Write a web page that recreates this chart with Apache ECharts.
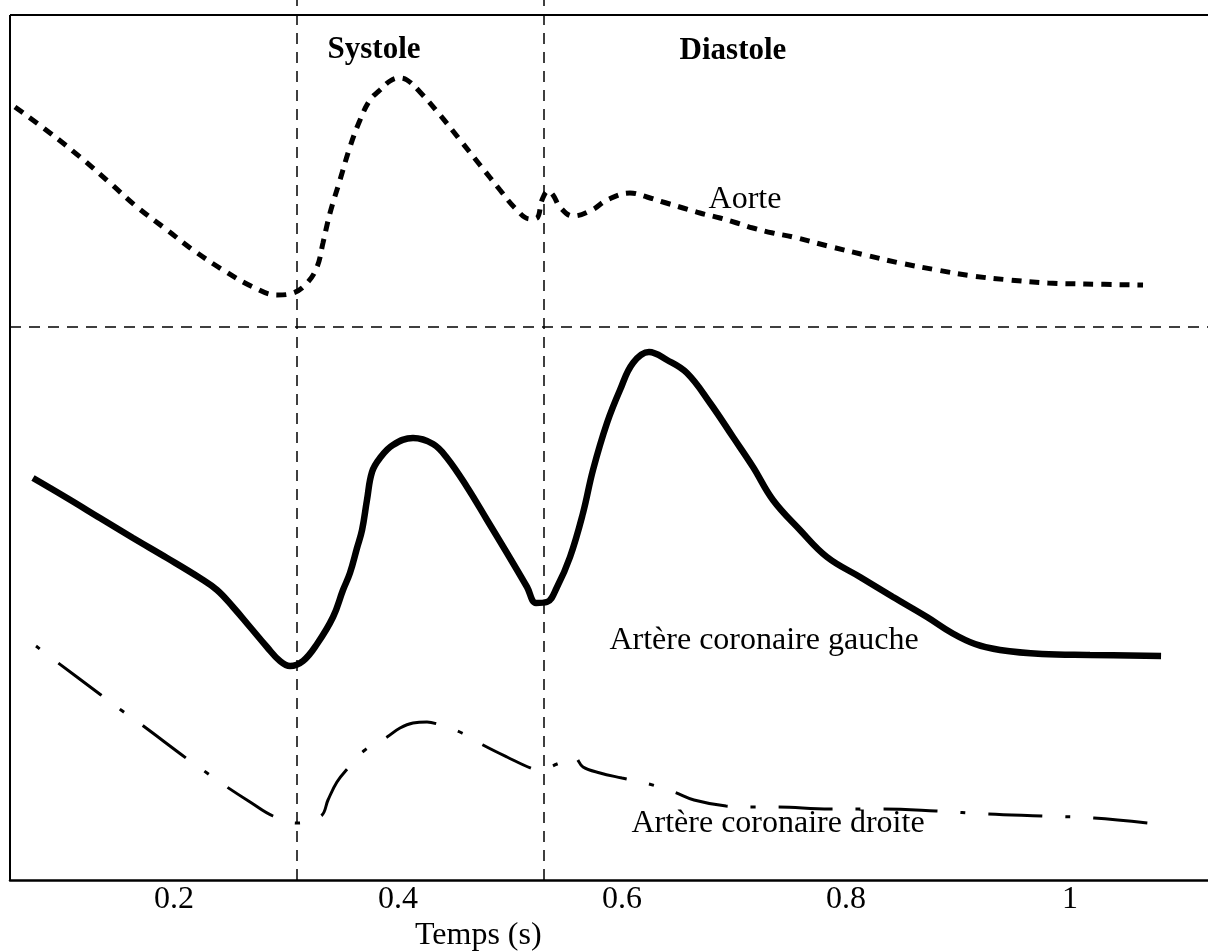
<!DOCTYPE html>
<html>
<head>
<meta charset="utf-8">
<title>Débit coronaire</title>
<script src="https://cdn.jsdelivr.net/npm/echarts@6/dist/echarts.min.js"></script>
<style>
html, body { margin: 0; padding: 0; background: #fff; }
#chart { width: 1208px; height: 952px; }
</style>
</head>
<body>
<div id="chart"></div>
<script>
// valeurs (temps en s, amplitude sans unité)
var xTicks = [0.2, 0.4, 0.6, 0.8, 1];
var debutSystole = 0.3107;
var finSystole = 0.525;
var separation = 55.3;

var aorteTemps = [0.0580, 0.0893, 0.1161, 0.1429, 0.1670, 0.1938, 0.2170, 0.2438, 0.2705, 0.2920,
	0.3063, 0.3188, 0.3277, 0.3330, 0.3393, 0.3482, 0.3571, 0.3661, 0.3750, 0.3839,
	0.3929, 0.4000, 0.4080, 0.4196, 0.4375, 0.4554, 0.4732, 0.4911, 0.5045, 0.5179,
	0.5241, 0.5286, 0.5339, 0.5384, 0.5446, 0.5563, 0.5732, 0.5866, 0.6071, 0.6223,
	0.6366, 0.6545, 0.6696, 0.6875, 0.7027, 0.7170, 0.7348, 0.7527, 0.7839, 0.8170,
	0.8482, 0.8813, 0.9134, 0.9464, 0.9804, 1.0134, 1.0652];
var aorteValeurs = [77.3, 74.7, 72.3, 69.7, 67.3, 65.0, 63.0, 61.0, 59.3, 58.5,
	58.7, 59.7, 61.3, 63.7, 66.7, 70.0, 73.3, 76.0, 78.0, 79.0,
	79.9, 80.2, 80.0, 78.8, 76.5, 74.0, 71.5, 69.0, 67.2, 66.1,
	66.2, 68.0, 68.9, 68.5, 67.3, 66.4, 67.0, 68.0, 68.7, 68.3,
	67.8, 67.2, 66.7, 66.2, 65.7, 65.2, 64.7, 64.3, 63.4, 62.5,
	61.7, 61.0, 60.4, 60.0, 59.7, 59.6, 59.5];

var gaucheTemps = [0.0741, 0.1045, 0.1339, 0.1634, 0.1938, 0.2232, 0.2384, 0.2527, 0.2679, 0.2830,
	0.2946, 0.3036, 0.3152, 0.3277, 0.3420, 0.3509, 0.3571, 0.3634, 0.3679, 0.3723,
	0.3768, 0.3839, 0.3955, 0.4134, 0.4313, 0.4438, 0.4616, 0.4795, 0.4973, 0.5152,
	0.5232, 0.5330, 0.5420, 0.5536, 0.5652, 0.5741, 0.5866, 0.5982, 0.6098, 0.6241,
	0.6402, 0.6580, 0.6786, 0.6991, 0.7170, 0.7348, 0.7589, 0.7830, 0.8125, 0.8420,
	0.8723, 0.8946, 0.9152, 0.9375, 0.9750, 1.0179, 1.0813];
var gaucheValeurs = [40.2, 38.2, 36.2, 34.2, 32.2, 30.2, 29.0, 27.3, 25.3, 23.3,
	21.9, 21.4, 21.9, 23.6, 26.3, 29.0, 30.7, 33.2, 35.0, 38.0,
	40.8, 42.2, 43.5, 44.2, 43.6, 42.2, 39.3, 36.0, 32.7, 29.3,
	27.7, 27.8, 29.3, 32.3, 36.7, 41.0, 45.7, 49.0, 51.7, 52.8,
	52.0, 50.7, 47.7, 44.3, 41.3, 38.0, 35.0, 32.3, 30.3, 28.3,
	26.3, 24.7, 23.6, 23.0, 22.6, 22.5, 22.4];

var droiteTemps = [0.0768, 0.0955, 0.1348, 0.1527, 0.1714, 0.2107, 0.2295, 0.2473, 0.2679, 0.2884,
	0.3107, 0.3313, 0.3375, 0.3455, 0.3554, 0.3705, 0.3902, 0.4018, 0.4134, 0.4259,
	0.4348, 0.4571, 0.4759, 0.4973, 0.5205, 0.5268, 0.5420, 0.5571, 0.5652, 0.5804,
	0.6000, 0.6241, 0.6464, 0.6643, 0.6929, 0.7152, 0.7366, 0.7857, 0.8313, 0.8804,
	0.9268, 0.9750, 1.0214, 1.0696];
var droiteValeurs = [23.4, 21.8, 18.5, 17.0, 15.5, 12.2, 10.7, 9.3, 7.8, 6.4,
	5.7, 6.4, 8.0, 9.8, 11.2, 13.0, 14.3, 15.2, 15.7, 15.8,
	15.6, 14.7, 13.5, 12.3, 11.1, 11.0, 11.6, 12.3, 11.3, 10.7,
	10.2, 9.6, 8.8, 8.0, 7.4, 7.3, 7.3, 7.1, 7.1, 6.9,
	6.6, 6.4, 6.2, 5.7];

var tMin = 0.05357, tMax = 1.12321, yMax = 88, yCadre = 86.5;
var police = 'Liberation Serif';

function couples(temps, valeurs) {
	return temps.map(function(t, i) {
		return [t, valeurs[i]];
	});
}

function traitPointille() {
	return {
		lineStyle: { color: '#000', width: 1.5, type: [11, 8] }
	};
}

function initChart() {
	var chart = echarts.init(document.getElementById('chart'));
	var texte = { fontFamily: police, fontSize: 32, color: '#000' };
	var option = {
		animation: false,
		title: {
			text: 'Temps (s)',
			left: 415,
			top: 920,
			padding: 0,
			textStyle: { fontFamily: police, fontSize: 32, fontWeight: 'normal', color: '#000' }
		},
		grid: { left: 10, right: 0, top: 0, bottom: 72 },
		xAxis: {
			type: 'value',
			min: tMin,
			max: tMax,
			splitLine: { show: false },
			axisTick: { show: false },
			axisLine: { show: true, onZero: false, lineStyle: { color: '#000', width: 2.5 } },
			axisLabel: {
				customValues: xTicks,
				margin: 4,
				fontFamily: police,
				fontSize: 32,
				color: '#000',
				formatter: function(v) { return String(v); }
			}
		},
		yAxis: {
			type: 'value',
			min: 0,
			max: yMax,
			splitLine: { show: false },
			axisLine: { show: false },
			axisTick: { show: false },
			axisLabel: { show: false }
		},
		series: [{
			name: 'Aorte',
			type: 'line',
			data: couples(aorteTemps, aorteValeurs),
			smooth: 0.4,
			showSymbol: false,
			lineStyle: { color: '#000', width: 5, type: [10, 8], cap: 'butt' },
			markLine: {
				silent: true,
				symbol: ['none', 'none'],
				label: { show: false },
				data: [
					[{ coord: [tMin, yCadre], lineStyle: { color: '#000', width: 2, type: 'solid' } }, { coord: [tMax, yCadre] }],
					[{ coord: [tMin, 0], lineStyle: { color: '#000', width: 2, type: 'solid' } }, { coord: [tMin, yCadre] }],
					Object.assign({ xAxis: debutSystole }, traitPointille()),
					Object.assign({ xAxis: finSystole }, traitPointille()),
					Object.assign({ yAxis: separation }, traitPointille())
				]
			},
			markPoint: {
				symbolSize: 0,
				silent: true,
				label: Object.assign({ show: true, position: 'inside', formatter: '{b}' }, texte),
				data: [
					{ name: 'Systole', coord: [0.3786, 83.0], label: { fontWeight: 'bold', fontSize: 31 } },
					{ name: 'Diastole', coord: [0.6991, 82.9], label: { fontWeight: 'bold', fontSize: 31 } },
					{ name: 'Aorte', coord: [0.7098, 68.0] }
				]
			}
		}, {
			name: 'Artère coronaire gauche',
			type: 'line',
			data: couples(gaucheTemps, gaucheValeurs),
			smooth: 0.4,
			showSymbol: false,
			lineStyle: { color: '#000', width: 6.5 },
			markPoint: {
				symbolSize: 0,
				silent: true,
				label: Object.assign({ show: true, position: 'inside', formatter: '{b}' }, texte),
				data: [{ name: 'Artère coronaire gauche', coord: [0.7268, 23.9] }]
			}
		}, {
			name: 'Artère coronaire droite',
			type: 'line',
			data: couples(droiteTemps, droiteValeurs),
			smooth: 0.4,
			showSymbol: false,
			lineStyle: { color: '#000', width: 3, type: [5, 23, 54, 23], cap: 'butt' },
			markPoint: {
				symbolSize: 0,
				silent: true,
				label: Object.assign({ show: true, position: 'inside', formatter: '{b}' }, texte),
				data: [{ name: 'Artère coronaire droite', coord: [0.7393, 5.6] }]
			}
		}]
	};
	chart.setOption(option);
}

initChart();
</script>
</body>
</html>
